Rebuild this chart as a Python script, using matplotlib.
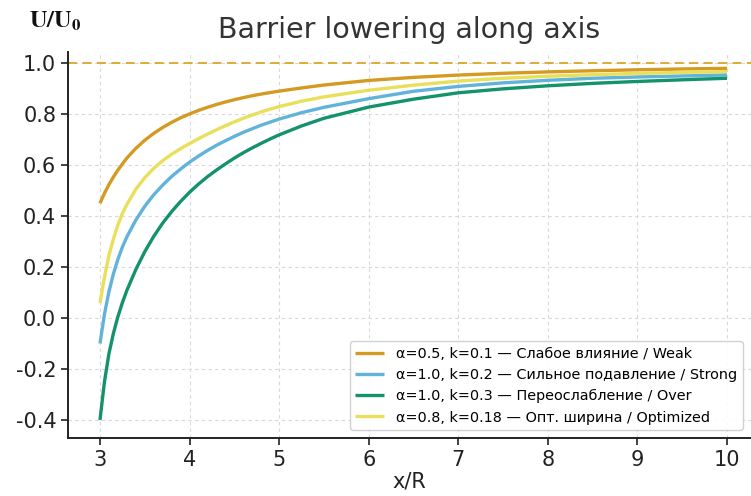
import matplotlib
matplotlib.use("Agg")
import matplotlib.pyplot as plt

x_vals = [3.0, 3.05, 3.1, 3.15, 3.2, 3.25, 3.3, 3.4, 3.5, 3.6, 3.7, 3.8, 3.9,
          4.0, 4.1, 4.2, 4.3, 4.4, 4.5, 4.6, 4.7, 4.8, 4.9, 5.0, 5.25, 5.5,
          6.0, 6.5, 7.0, 7.5, 8.0, 8.5, 9.0, 9.5, 10.0]

weak = [0.45, 0.489, 0.523, 0.553, 0.580, 0.604, 0.627, 0.665, 0.697, 0.724,
        0.747, 0.767, 0.785, 0.800, 0.814, 0.826, 0.837, 0.847, 0.856, 0.864,
        0.8715, 0.878, 0.884, 0.8895, 0.902, 0.9135, 0.9315, 0.9435, 0.9525, 0.9595,
        0.965, 0.9695, 0.9733, 0.9765, 0.979]
strong = [-0.10, 0.015, 0.103, 0.173, 0.230, 0.278, 0.318, 0.384, 0.438, 0.483,
          0.521, 0.555, 0.584, 0.611, 0.635, 0.657, 0.677, 0.695, 0.712, 0.728,
          0.742, 0.756, 0.768, 0.780, 0.805, 0.826, 0.860, 0.889, 0.908, 0.922,
          0.932, 0.940, 0.945, 0.949, 0.953]
over = [-0.40, -0.25, -0.14, -0.06, 0.005, 0.06, 0.108, 0.190, 0.260, 0.320,
        0.372, 0.417, 0.457, 0.493, 0.525, 0.554, 0.580, 0.604, 0.627, 0.648,
        0.667, 0.685, 0.702, 0.718, 0.753, 0.783, 0.827, 0.858, 0.883, 0.8985,
        0.9105, 0.920, 0.9275, 0.934, 0.940]
optimized = [0.059, 0.16, 0.245, 0.31, 0.365, 0.41, 0.445, 0.505, 0.55, 0.587,
             0.617, 0.642, 0.664, 0.684, 0.703, 0.721, 0.738, 0.754, 0.769, 0.783,
             0.796, 0.808, 0.819, 0.829, 0.850, 0.867, 0.893, 0.913, 0.929, 0.940,
             0.948, 0.954, 0.959, 0.963, 0.966]

labels = [
    "α=0.5, k=0.1 — Слабое влияние / Weak",
    "α=1.0, k=0.2 — Сильное подавление / Strong",
    "α=1.0, k=0.3 — Переослабление / Over",
    "α=0.8, k=0.18 — Опт. ширина / Optimized",
]
colors = ["#D49A22", "#62B3DA", "#14926C", "#E8E05A"]
series = [weak, strong, over, optimized]

title = "Barrier lowering along axis"
xlabel = "x/R"
ylabel = r"$\mathbf{U/U_0}$"

plt.rcParams['font.family'] = ['DejaVu Sans']
plt.rcParams['axes.unicode_minus'] = False

fig = plt.figure(figsize=(7.51, 4.96), dpi=100)
ax = fig.add_axes([68/751, 58/496, 1 - 68/751, (438-52)/496])

for ys, c, lab in zip(series, colors, labels):
    ax.plot(x_vals, ys, color=c, lw=2.4, label=lab, solid_capstyle='butt',
            solid_joinstyle='round')

ax.axhline(1.0, color="#E0A526", lw=1.3, ls=(0, (5, 3)))

ax.set_xlim(2.643, 10.268)
ax.set_ylim(-0.4706, 1.043)
ax.set_xticks([3, 4, 5, 6, 7, 8, 9, 10])
ax.set_yticks([-0.4, -0.2, 0.0, 0.2, 0.4, 0.6, 0.8, 1.0])
ax.grid(True, ls=(0, (3, 3)), color="#d8d8d8", lw=0.8)
ax.set_axisbelow(True)
for s in ("top", "right"):
    ax.spines[s].set_visible(False)
for s in ("left", "bottom"):
    ax.spines[s].set_color("#222222")
    ax.spines[s].set_linewidth(1.4)
ax.tick_params(labelsize=15, colors="#222222", length=5, width=1.2)
ax.set_xlabel(xlabel, fontsize=15, color="#222222", labelpad=1)
ax.set_title(title, fontsize=20.5, color="#333333", pad=10)

fig.text(0.038, 0.945, ylabel, fontsize=17.5, math_fontfamily='stix', color="#111111")

leg = ax.legend(loc="lower right", fontsize=10.4, frameon=True, fancybox=True,
                framealpha=0.9, edgecolor="#cccccc", borderaxespad=0.0,
                bbox_to_anchor=(0.988, 0.02))

fig.savefig("out.png", dpi=100)
